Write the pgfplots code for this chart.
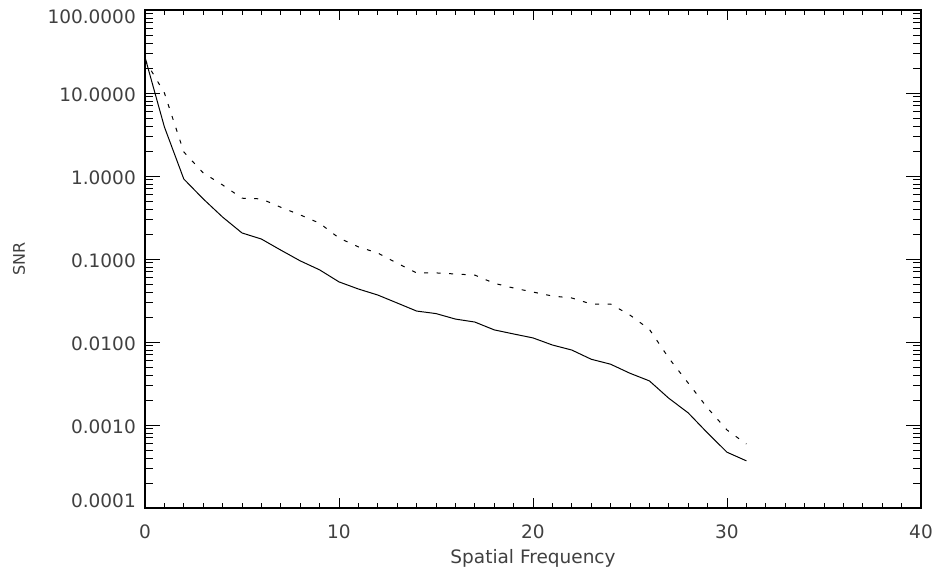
\documentclass[border=0pt]{standalone}
\usepackage{fontspec}
\setmainfont{DejaVu Sans}
\usepackage{pgfplots}
\pgfplotsset{compat=1.18}

\begin{document}
\begin{tikzpicture}
\begin{axis}[
    name=ax,
    at={(0,0)}, anchor=south west,
    scale only axis,
    width=776bp, height=498bp,
    ymode=log,
    xmin=0, xmax=40,
    ymin=1e-4, ymax=100,
    xtick={0,10,20,30,40},
    minor x tick num=9,
    ytick={1e-4,1e-3,1e-2,1e-1,1,10,100},
    yticklabels={{\raisebox{9bp}{0.0001}},0.0010,0.0100,0.1000,1.0000,10.0000,{\raisebox{-6bp}{100.0000}}},
    xticklabels={0,10,20,30,40},
    tick align=inside,
    axis line style={line width=1.2bp},
    every tick/.style={black, line width=0.9bp},
    xtick style={/pgfplots/major tick length=10bp, /pgfplots/minor tick length=5bp},
    ytick style={/pgfplots/major tick length=15bp, /pgfplots/minor tick length=8bp},
    ticklabel style={font=\fontsize{18.5bp}{22bp}\selectfont, text=black!75},
    xticklabel style={anchor=base, inner sep=0pt, yshift=-30bp},
    yticklabel style={anchor=base east, inner sep=0pt, xshift=-9bp, yshift=-8bp},
    xlabel={Spatial Frequency},
    ylabel={SNR},
    every axis x label/.style={at={(rel axis cs:0.5,0)}, anchor=base, yshift=-55bp,
        font=\fontsize{18.5bp}{22bp}\selectfont, text=black!75},
    every axis y label/.style={at={([xshift=-120bp]rel axis cs:0,0.5)}, anchor=base, rotate=90,
        font=\fontsize{16bp}{19bp}\selectfont, text=black!75},
    clip=true,
]
% solid curve
\addplot[black, line width=1bp] coordinates {
    (0,27) (1,3.9) (2,0.92) (3,0.53) (4,0.32) (5,0.206) (6,0.174) (7,0.128)
    (8,0.095) (9,0.074) (10,0.053) (11,0.0435) (12,0.0368) (13,0.0295)
    (14,0.0236) (15,0.0220) (16,0.0189) (17,0.0174) (18,0.0140) (19,0.0125)
    (20,0.0112) (21,0.0092) (22,0.0080) (23,0.0062) (24,0.0054) (25,0.0042)
    (26,0.0034) (27,0.0021) (28,0.0014) (29,0.00080) (30,0.00047) (31,0.00037)
};
% dashed curve
\addplot[black, line width=1bp, dash pattern=on 4bp off 8.5bp] coordinates {
    (0,25) (1,10) (2,1.95) (3,1.09) (4,0.78) (5,0.54) (6,0.53) (7,0.42)
    (8,0.34) (9,0.27) (10,0.179) (11,0.14) (12,0.118) (13,0.089)
    (14,0.068) (15,0.068) (16,0.066) (17,0.064) (18,0.051) (19,0.0447)
    (20,0.040) (21,0.0358) (22,0.0339) (23,0.0287) (24,0.0287) (25,0.0211)
    (26,0.0142) (27,0.0064) (28,0.0032) (29,0.0016) (30,0.00087) (31,0.00059)
};
\end{axis}
\pgfresetboundingbox
\path[use as bounding box] (-145bp,-65bp) rectangle (792bp,508bp);
\end{tikzpicture}
\end{document}
